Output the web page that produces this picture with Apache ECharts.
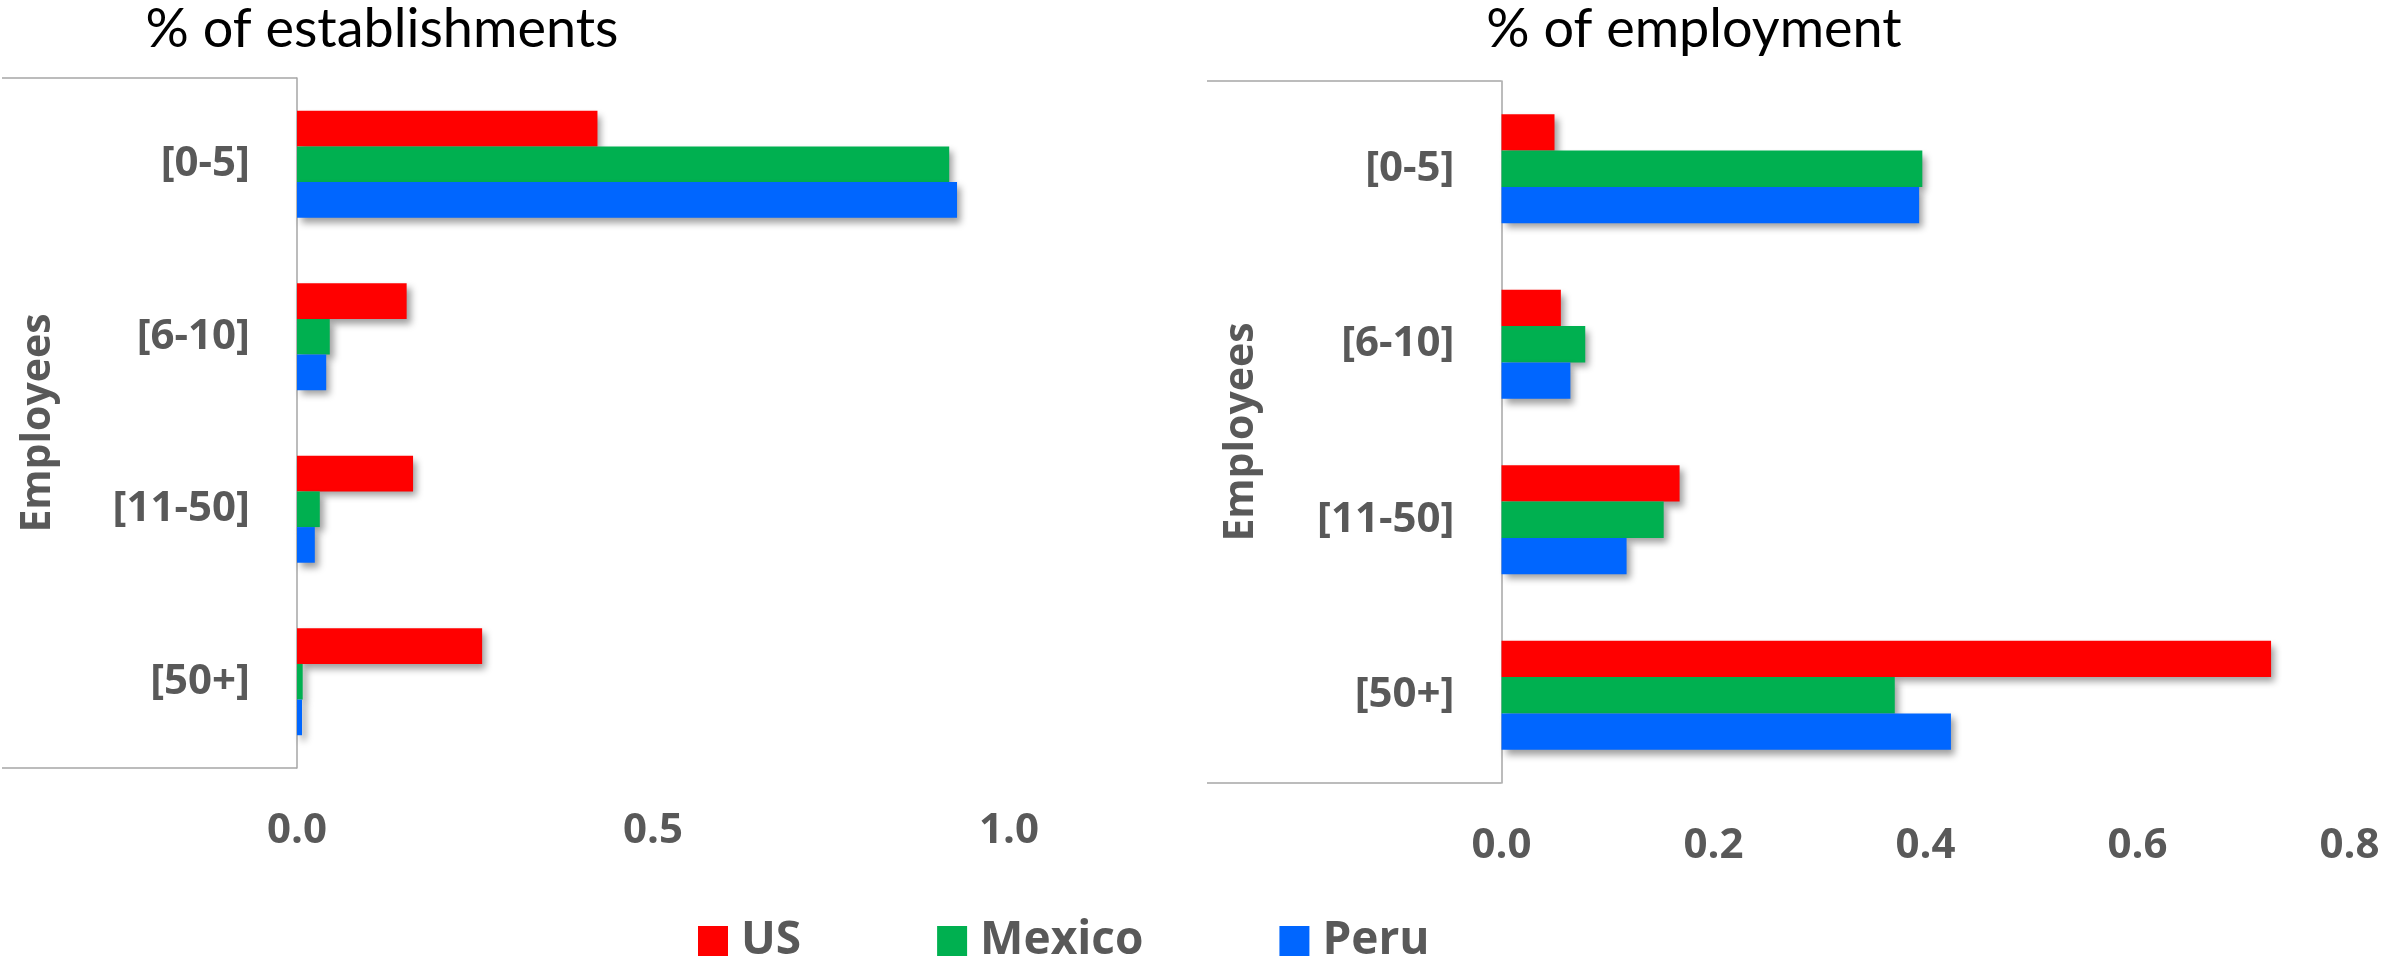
<!DOCTYPE html>
<html>
<head>
<meta charset="utf-8">
<script src="https://cdn.jsdelivr.net/npm/echarts@6/dist/echarts.min.js"></script>
<style>
  html, body { margin: 0; padding: 0; background: #ffffff; }
  #chart { width: 2384px; height: 961px; }
</style>
</head>
<body>
<div id="chart"></div>
<script>
// Firm-size bands (employees per establishment)
const categories = ['[0-5]', '[6-10]', '[11-50]', '[50+]'];
const countries = ['US', 'Mexico', 'Peru'];

// Share of establishments in each size band
const establishmentsUS = [0.422, 0.154, 0.163, 0.260];
const establishmentsMexico = [0.916, 0.046, 0.032, 0.008];
const establishmentsPeru = [0.927, 0.041, 0.025, 0.007];

// Share of employment in each size band
const employmentUS = [0.050, 0.056, 0.168, 0.726];
const employmentMexico = [0.397, 0.079, 0.153, 0.371];
const employmentPeru = [0.394, 0.065, 0.118, 0.424];

// Value-axis ranges and tick steps
const establishmentsTicks = { max: 1.0, step: 0.5 };
const employmentTicks = { max: 0.8, step: 0.2 };

const panelTitles = ['% of establishments', '% of employment'];
const categoryAxisName = 'Employees';

const colors = { US: '#FF0000', Mexico: '#00B050', Peru: '#0066FF' };
const labelGray = '#595959';
const lineGray = '#A6A6A6';
const labelFont = '"Open Sans", "DejaVu Sans", sans-serif';

const chart = echarts.init(document.getElementById('chart'), null, { renderer: 'canvas' });

const panelValues = [
  [establishmentsUS, establishmentsMexico, establishmentsPeru],
  [employmentUS, employmentMexico, employmentPeru]
];

const series = [];
panelValues.forEach((set, p) => {
  set.forEach((vals, i) => {
    const name = countries[i];
    series.push({
      type: 'bar',
      name: name,
      xAxisIndex: p,
      yAxisIndex: p,
      data: vals,
      barGap: '0%',
      barCategoryGap: '38%',
      itemStyle: {
        color: colors[name],
        shadowColor: 'rgba(0,0,0,0.38)',
        shadowBlur: 7,
        shadowOffsetX: 4,
        shadowOffsetY: 5
      },
      emphasis: { disabled: true },
      animation: false
    });
  });
});

function valueAxis(idx, ticks) {
  return {
    type: 'value',
    gridIndex: idx,
    min: 0,
    max: ticks.max,
    interval: ticks.step,
    axisLine: { show: false },
    axisTick: { show: false },
    splitLine: { show: false },
    axisLabel: {
      margin: 42,
      color: labelGray,
      fontFamily: labelFont,
      fontWeight: 'bold',
      fontSize: 42,
      formatter: v => v.toFixed(1)
    }
  };
}

function categoryAxis(idx, nameGap) {
  return {
    type: 'category',
    gridIndex: idx,
    data: categories,
    inverse: true,
    axisLine: { show: true, lineStyle: { color: lineGray, width: 1.5 } },
    axisTick: { show: false },
    axisLabel: {
      margin: 47,
      color: labelGray,
      fontFamily: labelFont,
      fontWeight: 'bold',
      fontSize: 42
    },
    name: categoryAxisName,
    nameLocation: 'middle',
    nameRotate: 90,
    nameGap: nameGap,
    nameTextStyle: {
      color: labelGray,
      fontFamily: labelFont,
      fontWeight: 'bold',
      fontSize: 41
    }
  };
}

function hLine(x1, x2, y) {
  return {
    type: 'line',
    shape: { x1: x1, y1: y, x2: x2, y2: y },
    style: { stroke: lineGray, lineWidth: 1.5 },
    silent: true
  };
}

const titleStyle = {
  color: '#000000',
  fontFamily: 'Lato, "Open Sans", sans-serif',
  fontWeight: 'normal',
  fontSize: 54
};

chart.setOption({
  backgroundColor: '#ffffff',
  animation: false,
  title: [
    { text: panelTitles[0], left: 377, top: -2, textAlign: 'center', textStyle: titleStyle },
    { text: panelTitles[1], left: 1689, top: -2, textAlign: 'center', textStyle: titleStyle }
  ],
  legend: {
    data: countries,
    left: 693,
    top: 913,
    icon: 'rect',
    itemWidth: 30,
    itemHeight: 30,
    itemGap: 136,
    itemStyle: { shadowBlur: 0, shadowOffsetX: 0, shadowOffsetY: 0 },
    textStyle: {
      color: labelGray,
      fontFamily: labelFont,
      fontWeight: 'bold',
      fontSize: 46,
      padding: [0, 0, 0, 8]
    }
  },
  grid: [
    { left: 297, top: 78, width: 712, height: 690 },
    { left: 1501.5, top: 81, width: 848, height: 702 }
  ],
  xAxis: [valueAxis(0, establishmentsTicks), valueAxis(1, employmentTicks)],
  yAxis: [categoryAxis(0, 238), categoryAxis(1, 240)],
  graphic: [
    hLine(2, 297, 78),
    hLine(2, 297, 768),
    hLine(1207, 1501.5, 81),
    hLine(1207, 1501.5, 783)
  ],
  series: series
});
</script>
</body>
</html>
